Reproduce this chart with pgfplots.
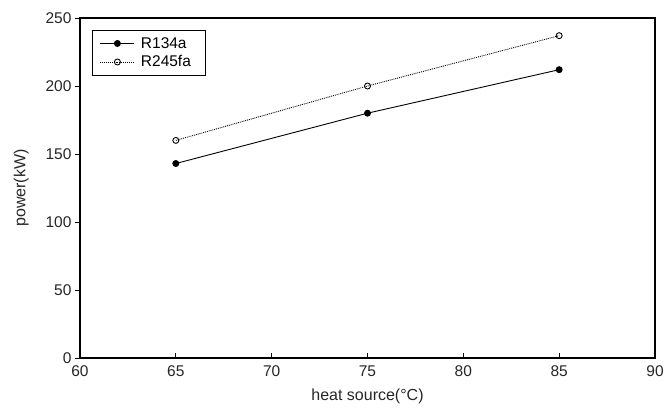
\documentclass[border=0pt]{standalone}
\usepackage{fontspec}
\setmainfont{Liberation Sans}
\usepackage{pgfplots}
\pgfplotsset{compat=1.18}

\begin{document}
\begin{tikzpicture}
\useasboundingbox (-80pt,-54pt) rectangle (589pt,358pt);
\begin{axis}[
  scale only axis, width=575pt, height=340pt,
  at={(0pt,0pt)}, anchor=south west,
  xmin=60, xmax=90, ymin=0, ymax=250,
  xtick={60,65,...,90}, ytick={0,50,...,250},
  tick pos=left, xtick align=inside, ytick align=outside,
  major tick length=5pt,
  axis line style={line width=1.1pt}, tick style={line width=0.9pt, black},
  /pgf/number format/assume math mode=true,
  tick label style={font=\fontsize{15.5}{17}\selectfont, color=black!85},
  xticklabel style={yshift=-4pt},
  label style={font=\fontsize{16}{18}\selectfont, color=black!85},
  xlabel={heat source(\textdegree C)}, ylabel={power(kW)},
  xlabel style={yshift=-6pt}, ylabel style={yshift=10pt},
  legend style={at={(0.02,0.965)}, anchor=north west, draw=black, line width=0.8pt,
    font=\fontsize{15.5}{17}\selectfont, row sep=2pt, inner xsep=8pt, inner ysep=5pt,
    nodes={inner xsep=6pt}},
  legend cell align=left,
  legend image code/.code={\draw[#1] (0pt,0pt) -- (1.2cm,0pt); \draw[#1, only marks] plot coordinates {(0.6cm,0pt)};},
]
\addplot[black, line width=0.9pt, mark=*, mark size=3pt, mark options={solid, fill=black}] coordinates {
  (65,143) (75,180) (85,212)
};
\addlegendentry{R134a}
\addplot[black, line width=0.9pt, densely dotted, mark=o, mark size=3pt, mark options={solid, fill=white}] coordinates {
  (65,160) (75,200) (85,237)
};
\addlegendentry{R245fa}
\end{axis}
\end{tikzpicture}
\end{document}
